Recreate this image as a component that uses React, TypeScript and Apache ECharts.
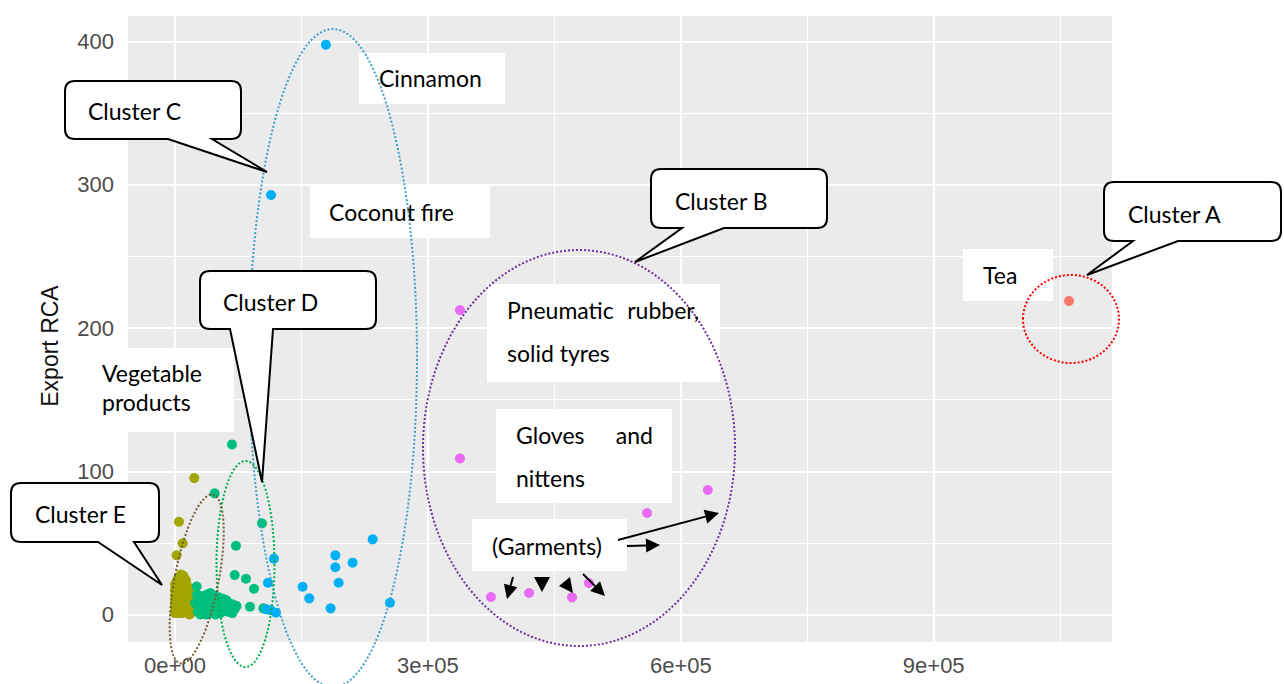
import React, { useEffect, useRef } from "react";
import * as echarts from "echarts";

// ---- axis ticks / grid values ----
const xTickValues = [0, 300000, 600000, 900000];
const yTickValues = [0, 100, 200, 300, 400];
const xMinorGrid = [150000, 450000, 750000, 1050000];
const yMinorGrid = [50, 150, 250, 350];
const xRange = [-55750, 1111500];
const yRange = [-19.2, 418];

// ---- data (x = export value, y = Export RCA) ----
const clusterA: number[][] = [[1060500, 219]];
const clusterB: number[][] = [
  [338000, 212.6], [338000, 109], [560000, 70.9], [632000, 87],
  [374800, 12.2], [420000, 15], [471000, 12], [491000, 22],
];
const clusterC: number[][] = [
  [179000, 398], [113900, 293], [234500, 52.5], [190200, 41.3], [190200, 33],
  [210700, 36.2], [194100, 22.2], [151400, 19.4], [159300, 11.3], [184600, 4.3],
  [255000, 8.2], [117400, 39], [110300, 22.2], [108700, 3.6], [119800, 1.3], [113500, 3],
];
const clusterD: number[][] = [
  [67600, 118.8], [47000, 84.6], [103200, 63.7], [72300, 48], [70800, 27.6],
  [84200, 25], [93700, 18], [89000, 5.4], [104800, 4.3], [25700, 19.5],
  [24000, 8], [27000, 2], [29000, 12], [31000, 6], [33000, 13], [34000, 1],
  [36000, 9], [38000, 14], [39000, 4], [41000, 11], [43000, 1], [44000, 7],
  [46000, 13], [47000, 3], [49000, 10], [51000, 5], [52000, 12], [54000, 1],
  [55000, 8], [57000, 11], [58000, 3], [60000, 7], [61000, 10], [63000, 2],
  [64000, 8], [66000, 5], [68000, 1], [69000, 7], [71000, 4], [73000, 6],
  [26000, 14], [30000, 0], [37000, 0], [42000, 15], [48000, 0], [56000, 5],
];
const clusterE: number[][] = [
  [22900, 95.3], [4700, 64.8], [9100, 49.7], [2000, 41.3],
  [0, 1], [0, 5], [0, 9], [0, 13], [0, 17], [0, 21], [1000, 3], [1500, 11],
  [2000, 19], [2500, 24], [3000, 7], [3500, 15], [4000, 1], [4500, 22], [5000, 26],
  [5500, 10], [6000, 4], [6500, 18], [7000, 28], [7500, 13], [8000, 1], [8500, 24],
  [9000, 7], [9500, 19], [10000, 27], [10500, 14], [11000, 3], [11500, 22],
  [12000, 9], [12500, 17], [13000, 24], [13500, 2], [14000, 13], [14500, 20],
  [15000, 6], [15500, 16], [16000, 1], [16500, 11], [17000, 18], [17500, 4],
  [18000, 14], [18500, 9], [19000, 1], [19500, 12], [20000, 6], [20500, 3],
  [1000, 16], [3000, 20], [5000, 5], [7000, 9], [9000, 2], [11000, 18],
  [13000, 8], [15000, 11], [17000, 0], [21000, 9], [8000, 16], [4000, 12],
];

const colors = {
  A: "#F8766D",
  B: "#E76BF3",
  C: "#00B0F6",
  D: "#00BF7D",
  E: "#A3A500",
};

const TEXT_FONT = '23px Lato, "Open Sans", sans-serif';

function calloutPath(
  x0: number, y0: number, x1: number, y1: number,
  b1: number, b2: number, tx: number, ty: number, r = 10
) {
  return `M${x0 + r},${y0} H${x1 - r} Q${x1},${y0} ${x1},${y0 + r} V${y1 - r} Q${x1},${y1} ${x1 - r},${y1} H${b2} L${tx},${ty} L${b1},${y1} H${x0 + r} Q${x0},${y1} ${x0},${y1 - r} V${y0 + r} Q${x0},${y0} ${x0 + r},${y0} Z`;
}

const callouts = [
  { name: "calloutC", box: [65, 81, 241, 139], base: [168, 212], tip: [267, 172], text: "Cluster C", tx: 88, ty: 111 },
  { name: "calloutD", box: [200, 271, 376, 329], base: [230, 273], tip: [262, 482], text: "Cluster D", tx: 223, ty: 302 },
  { name: "calloutE", box: [11, 483, 159, 542], base: [98, 134], tip: [162, 585], text: "Cluster E", tx: 35, ty: 514 },
  { name: "calloutB", box: [651, 169, 827, 228], base: [682, 724], tip: [635, 262], text: "Cluster B", tx: 675, ty: 201 },
  { name: "calloutA", box: [1104, 182, 1281, 241], base: [1133, 1178], tip: [1087, 275], text: "Cluster A", tx: 1128, ty: 214 },
];

callouts.forEach((c) => {
  const [x0, y0, x1, y1] = c.box;
  const d = calloutPath(x0, y0, x1, y1, c.base[0], c.base[1], c.tip[0], c.tip[1]);
  echarts.graphic.registerShape(c.name, echarts.graphic.extendPath(d, {}) as any);
});

function arrow(x1: number, y1: number, x2: number, y2: number, headLen = 14, headW = 7) {
  const dx = x2 - x1, dy = y2 - y1;
  const L = Math.hypot(dx, dy);
  const ux = dx / L, uy = dy / L;
  const bx = x2 - ux * headLen, by = y2 - uy * headLen;
  return [
    { type: "line", shape: { x1, y1, x2: bx, y2: by }, style: { stroke: "#000", lineWidth: 2 }, z: 120 },
    {
      type: "polygon",
      shape: { points: [[x2, y2], [bx - uy * headW, by + ux * headW], [bx + uy * headW, by - ux * headW]] },
      style: { fill: "#000" },
      z: 120,
    },
  ];
}

function label(text: string, x: number, y: number, align = "left") {
  return {
    type: "text",
    x,
    y,
    z: 110,
    style: { text, font: TEXT_FONT, fill: "#000", textAlign: align, textVerticalAlign: "middle" },
  };
}

function whiteBox(x0: number, y0: number, x1: number, y1: number) {
  return { type: "rect", shape: { x: x0, y: y0, width: x1 - x0, height: y1 - y0 }, style: { fill: "#fff" }, z: 100 };
}

function dotted(cx: number, cy: number, rx: number, ry: number, stroke: string, rotation = 0) {
  return {
    type: "ellipse",
    x: cx,
    y: cy,
    rotation,
    shape: { cx: 0, cy: 0, rx, ry },
    style: { fill: "none", stroke, lineWidth: 2, lineDash: [2, 2] },
    z: 105,
  };
}

export default function App() {
  const ref = useRef<HTMLDivElement>(null);

  useEffect(() => {
    if (!ref.current) return;
    const chart = echarts.init(ref.current, undefined, { renderer: "svg" });

    const gridLines = [
      ...xTickValues.map((v) => ({ xAxis: v, lineStyle: { width: 2.2 } })),
      ...xMinorGrid.map((v) => ({ xAxis: v, lineStyle: { width: 1.1 } })),
      ...yTickValues.map((v) => ({ yAxis: v, lineStyle: { width: 2.2 } })),
      ...yMinorGrid.map((v) => ({ yAxis: v, lineStyle: { width: 1.1 } })),
    ];

    const scatter = (name: string, data: number[][], color: string) => ({
      type: "scatter",
      name,
      data,
      symbolSize: 10,
      itemStyle: { color, opacity: 1 },
      z: 5,
    });

    const graphics: any[] = [
      // white label boxes
      whiteBox(359, 53, 505, 104),
      whiteBox(310, 186, 490, 238),
      whiteBox(487, 284, 720, 382),
      whiteBox(496, 409, 672, 503),
      whiteBox(84, 348, 234, 432),
      whiteBox(472, 519, 627, 571),
      whiteBox(963, 249, 1053, 301),
      label("Cinnamon", 379, 78),
      label("Coconut fire", 329, 212),
      label("Pneumatic", 507, 310),
      label("rubber,", 699, 310, "right"),
      label("solid tyres", 507, 353),
      label("Gloves", 516, 435),
      label("and", 653, 435, "right"),
      label("nittens", 516, 478),
      label("Vegetable", 102, 373),
      label("products", 102, 402),
      label("(Garments)", 492, 546),
      label("Tea", 983, 275),
      // dotted cluster outlines
      dotted(333, 358, 84, 329, "#3FA0C8"),
      dotted(579, 448, 156, 198, "#7030A0"),
      dotted(1071, 319, 48, 44, "#FF0000"),
      dotted(245.5, 564, 29, 103, "#00B050"),
      dotted(196.7, 579, 22, 86, "#6E5E30", -0.19),
      // arrows
      ...arrow(618, 540, 719, 513),
      ...arrow(627, 546, 660, 545),
      ...arrow(513, 577, 507, 599),
      ...arrow(583, 574, 605, 596),
      { type: "polygon", shape: { points: [[534, 577], [550, 577], [542, 592]] }, style: { fill: "#000" }, z: 120 },
      { type: "polygon", shape: { points: [[559, 586], [570, 577], [573, 593]] }, style: { fill: "#000" }, z: 120 },
      // y axis title
      {
        type: "text",
        x: 50,
        y: 346,
        rotation: Math.PI / 2,
        z: 90,
        style: {
          text: "Export RCA",
          font: '23px "Liberation Sans", Arial, sans-serif',
          fill: "#111111",
          textAlign: "center",
          textVerticalAlign: "middle",
        },
      },
    ];

    callouts.forEach((c) => {
      graphics.push({
        type: c.name,
        x: 0,
        y: 0,
        z: 130,
        style: { fill: "#fff", stroke: "#000", lineWidth: 2 },
      });
      graphics.push({
        type: "text",
        x: c.tx,
        y: c.ty,
        z: 131,
        style: { text: c.text, font: TEXT_FONT, fill: "#000", textAlign: "left", textVerticalAlign: "middle" },
      });
    });

    chart.setOption({
      animation: false,
      backgroundColor: "#fff",
      grid: {
        left: 128,
        top: 16,
        right: 1284 - 1112,
        bottom: 684 - 642,
        show: true,
        backgroundColor: "#EBEBEB",
        borderWidth: 0,
        containLabel: false,
      },
      xAxis: {
        type: "value",
        min: xRange[0],
        max: xRange[1],
        axisLine: { show: false },
        splitLine: { show: false },
        axisTick: { show: true, length: 5, customValues: xTickValues, lineStyle: { color: "#333", width: 1.5 } },
        axisLabel: {
          customValues: xTickValues,
          margin: 12,
          color: "#4D4D4D",
          fontSize: 22,
          fontFamily: '"Liberation Sans", Arial, sans-serif',
          formatter: (v: number) => (v === 0 ? "0e+00" : `${Math.round(v / 1e5)}e+05`),
        },
      },
      yAxis: {
        type: "value",
        min: yRange[0],
        max: yRange[1],
        axisLine: { show: false },
        splitLine: { show: false },
        axisTick: { show: true, length: 5, customValues: yTickValues, lineStyle: { color: "#333", width: 1.5 } },
        axisLabel: {
          customValues: yTickValues,
          margin: 14,
          color: "#4D4D4D",
          fontSize: 22,
          fontFamily: '"Liberation Sans", Arial, sans-serif',
        },
      },
      series: [
        {
          type: "line",
          data: [],
          z: 1,
          silent: true,
          markLine: {
            silent: true,
            symbol: ["none", "none"],
            label: { show: false },
            lineStyle: { color: "#FFFFFF", type: "solid" },
            emphasis: { disabled: true },
            data: gridLines,
          },
        },
        scatter("E", clusterE, colors.E),
        scatter("D", clusterD, colors.D),
        scatter("C", clusterC, colors.C),
        scatter("B", clusterB, colors.B),
        scatter("A", clusterA, colors.A),
      ],
      graphic: graphics,
    });

    return () => chart.dispose();
  }, []);

  return (
    <div
      ref={ref}
      style={{ position: "fixed", left: 0, top: 0, width: 1284, height: 684 }}
    />
  );
}
